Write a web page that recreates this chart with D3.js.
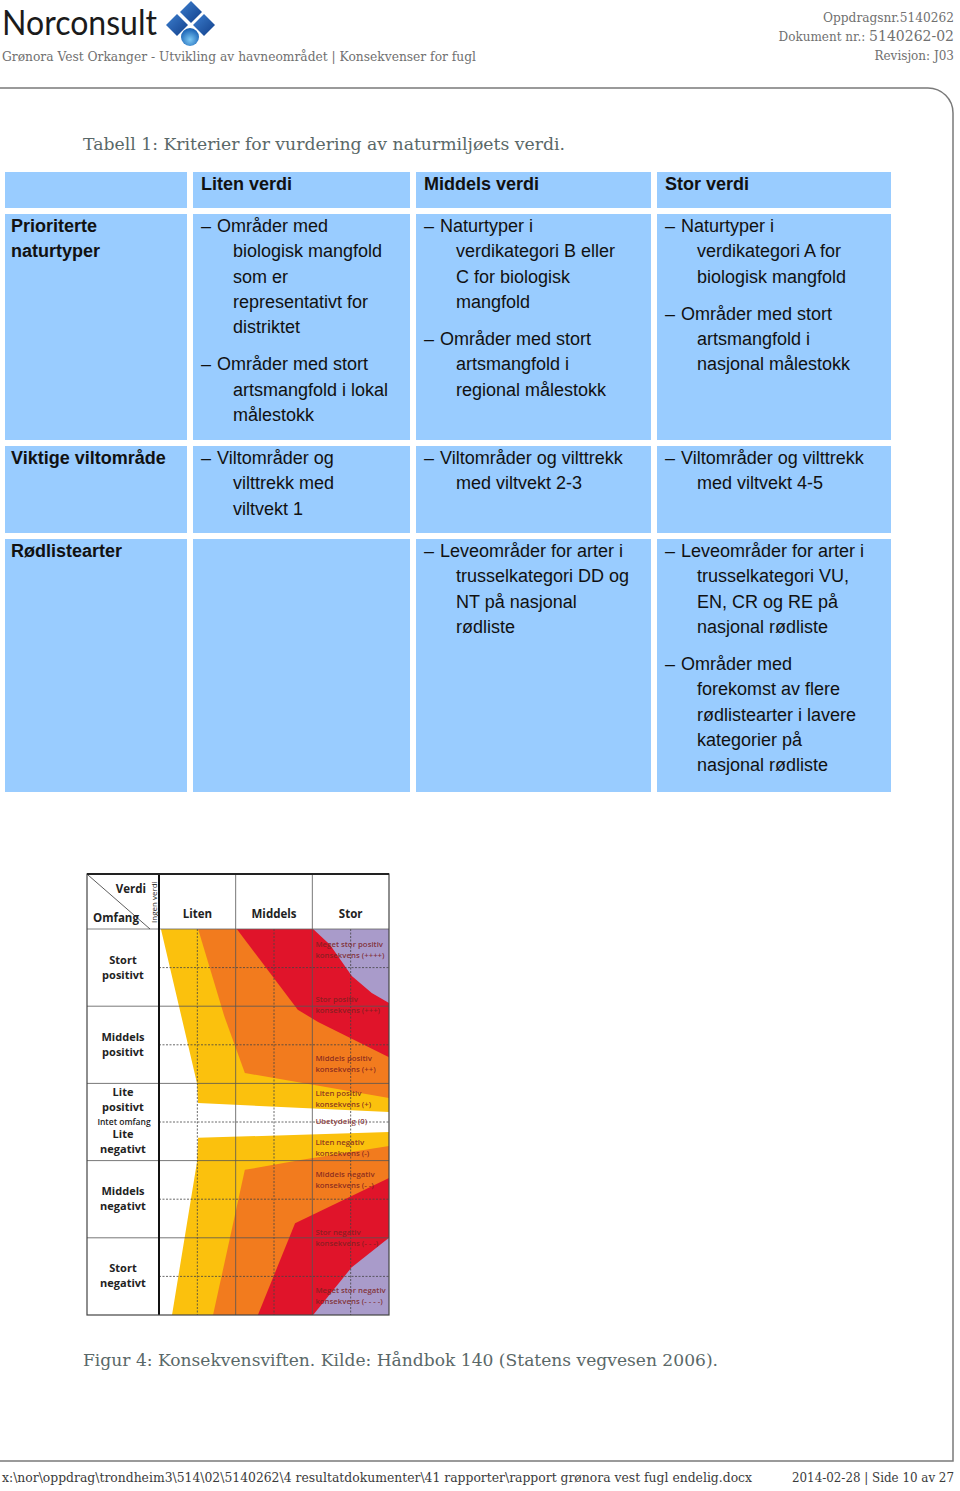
<!DOCTYPE html>
<html>
<head>
<meta charset="utf-8">
<script src="https://cdn.jsdelivr.net/npm/d3@7"></script>
<style>
  body { margin: 0; background: #fff; }
  svg text { font-kerning: normal; }
</style>
</head>
<body>
<div id="page"></div>
<script>
// ---- data -------------------------------------------------------------
const docInfo = ['Oppdragsnr.5140262', 'Dokument nr.: ', '5140262-02', 'Revisjon: J03'];
const subTitle = 'Grønora Vest Orkanger - Utvikling av havneområdet | Konsekvenser for fugl';
const tableCaption = 'Tabell 1: Kriterier for vurdering av naturmiljøets verdi.';
const figCaption = 'Figur 4: Konsekvensviften. Kilde: Håndbok 140 (Statens vegvesen 2006).';
const footLeft = 'x:\\nor\\oppdrag\\trondheim3\\514\\02\\5140262\\4 resultatdokumenter\\41 rapporter\\rapport grønora vest fugl endelig.docx';
const footRight = '2014-02-28 | Side 10 av 27';

// table
const tableHead = ['', 'Liten verdi', 'Middels verdi', 'Stor verdi'];
const rowLabels = [['Prioriterte', 'naturtyper'], ['Viktige viltområde'], ['Rødlistearter']];
const cellsLiten = [
  [['Områder med', 'biologisk mangfold', 'som er', 'representativt for', 'distriktet'],
   ['Områder med stort', 'artsmangfold i lokal', 'målestokk']],
  [['Viltområder og', 'vilttrekk med', 'viltvekt 1']],
  []
];
const cellsMiddels = [
  [['Naturtyper i', 'verdikategori B eller', 'C for biologisk', 'mangfold'],
   ['Områder med stort', 'artsmangfold i', 'regional målestokk']],
  [['Viltområder og vilttrekk', 'med viltvekt 2-3']],
  [['Leveområder for arter i', 'trusselkategori DD og', 'NT på nasjonal', 'rødliste']]
];
const cellsStor = [
  [['Naturtyper i', 'verdikategori A for', 'biologisk mangfold'],
   ['Områder med stort', 'artsmangfold i', 'nasjonal målestokk']],
  [['Viltområder og vilttrekk', 'med viltvekt 4-5']],
  [['Leveområder for arter i', 'trusselkategori VU,', 'EN, CR og RE på', 'nasjonal rødliste'],
   ['Områder med', 'forekomst av flere', 'rødlistearter i lavere', 'kategorier på', 'nasjonal rødliste']]
];

// konsekvensvifte: x = verdi (0 ingen .. 6 stor), y = omfang (+5 stort positivt .. -5 stort negativt)
const verdiCols = ['Liten', 'Middels', 'Stor'];
const omfangRows = [
  { o: 4.2, lines: ['Stort', 'positivt'] },
  { o: 2.2, lines: ['Middels', 'positivt'] },
  { o: 0.78, lines: ['Lite', 'positivt'] },
  { o: -0.3, lines: ['Lite', 'negativt'] },
  { o: -1.79, lines: ['Middels', 'negativt'] },
  { o: -3.79, lines: ['Stort', 'negativt'] }
];
const yellowPos = [[0.05, 5], [0.99, 1.01], [1.02, 0.49], [6, 0.26], [6, 5]];
const orangePos = [[1.02, 5], [1.7, 2.75], [2.24, 1.27], [6, 0.62], [6, 5]];
const redPos = [[2.03, 5], [3.62, 2.91], [4.15, 2.59], [6, 1.68], [6, 5]];
const purplePos = [[4.02, 5], [4.46, 4.59], [5.03, 3.78], [5.55, 3.34], [6, 3.08], [6, 5]];
const yellowNeg = [[1.02, -0.41], [0.99, -1.04], [0.34, -5], [6, -5], [6, -0.26]];
const orangeNeg = [[6, -0.62], [3.73, -0.98], [2.24, -1.24], [1.41, -5], [6, -5]];
const redNeg = [[6, -1.45], [3.55, -2.62], [2.58, -5], [6, -5]];
const purpleNeg = [[6, -3.0], [5.03, -3.76], [4.02, -5], [6, -5]];
const fanLabels = [
  { o: 4.61, lines: ['Meget stor positiv', 'konsekvens (++++)'] },
  { o: 3.19, lines: ['Stor positiv', 'konsekvens (+++)'] },
  { o: 1.66, lines: ['Middels positiv', 'konsekvens (++)'] },
  { o: 0.75, lines: ['Liten positiv', 'konsekvens (+)'] },
  { o: 0.03, lines: ['Ubetydelig (0)'] },
  { o: -0.52, lines: ['Liten negativ', 'konsekvens (-)'] },
  { o: -1.35, lines: ['Middels negativ', 'konsekvens (- -)'] },
  { o: -2.85, lines: ['Stor negativ', 'konsekvens (- - -)'] },
  { o: -4.35, lines: ['Meget stor negativ', 'konsekvens (- - - -)'] }
];

// ---- page -------------------------------------------------------------
const W = 960, H = 1491;
const svg = d3.select('#page').append('svg').attr('width', W).attr('height', H);

const slab = "'DejaVu Serif', serif";
const arial = "'Liberation Sans', Arial, sans-serif";
const frut = "'Open Sans', 'Noto Sans', sans-serif";

// logo + header
svg.append('text').attr('x', 2).attr('y', 35).attr('font-family', "Lato, sans-serif")
  .attr('font-size', 34).attr('fill', '#1b1b1b').attr('textLength', 155)
  .attr('lengthAdjust', 'spacingAndGlyphs').text('Norconsult');

const defs = svg.append('defs');
const g1 = defs.append('linearGradient').attr('id', 'lg').attr('x1', 0).attr('y1', 0).attr('x2', 1).attr('y2', 1);
g1.append('stop').attr('offset', 0).attr('stop-color', '#3c7fcf');
g1.append('stop').attr('offset', 1).attr('stop-color', '#123f8a');
const g2 = defs.append('radialGradient').attr('id', 'rg').attr('cx', 0.5).attr('cy', 0.65).attr('r', 0.6);
g2.append('stop').attr('offset', 0).attr('stop-color', '#7cc8f4');
g2.append('stop').attr('offset', 1).attr('stop-color', '#1b63b5');

const diamonds = [[191, 12], [177, 25], [204, 25]];
svg.selectAll('path.dia').data(diamonds).enter().append('path')
  .attr('d', d => `M${d[0]},${d[1] - 11}L${d[0] + 11},${d[1]}L${d[0]},${d[1] + 11}L${d[0] - 11},${d[1]}Z`)
  .attr('fill', 'url(#lg)');
svg.append('circle').attr('cx', 190).attr('cy', 37).attr('r', 9).attr('fill', 'url(#rg)');

svg.append('text').attr('x', 2).attr('y', 61).attr('font-family', slab).attr('font-size', 13)
  .attr('fill', '#707070').attr('textLength', 474).attr('lengthAdjust', 'spacingAndGlyphs').text(subTitle);

svg.append('text').attr('x', 954).attr('y', 22).attr('text-anchor', 'end').attr('font-family', slab)
  .attr('font-size', 12).attr('fill', '#707070').attr('textLength', 131).attr('lengthAdjust', 'spacingAndGlyphs')
  .text(docInfo[0]);
const dok = svg.append('text').attr('x', 954).attr('y', 41).attr('text-anchor', 'end')
  .attr('font-family', slab).attr('fill', '#707070');
dok.append('tspan').attr('font-size', 12).text(docInfo[1]);
dok.append('tspan').attr('font-size', 14).text(docInfo[2]);
svg.append('text').attr('x', 954).attr('y', 60).attr('text-anchor', 'end').attr('font-family', slab)
  .attr('font-size', 12).attr('fill', '#707070').text(docInfo[3]);

// page frame
svg.append('path').attr('d', 'M0,88H928A25,25 0 0 1 953,113V1461H0')
  .attr('fill', 'none').attr('stroke', '#7a7a7a').attr('stroke-width', 1.5);

// captions
svg.append('text').attr('x', 83).attr('y', 150).attr('font-family', slab).attr('font-size', 16)
  .attr('fill', '#5a6868').attr('textLength', 482).attr('lengthAdjust', 'spacingAndGlyphs').text(tableCaption);
svg.append('text').attr('x', 83).attr('y', 1366).attr('font-family', slab).attr('font-size', 16)
  .attr('fill', '#5a6868').attr('textLength', 635).attr('lengthAdjust', 'spacingAndGlyphs').text(figCaption);

// footer
svg.append('text').attr('x', 2).attr('y', 1482).attr('font-family', slab).attr('font-size', 12)
  .attr('fill', '#3a3a3a').attr('textLength', 750).attr('lengthAdjust', 'spacingAndGlyphs').text(footLeft);
svg.append('text').attr('x', 954).attr('y', 1482).attr('text-anchor', 'end').attr('font-family', slab)
  .attr('font-size', 12).attr('fill', '#3a3a3a').attr('textLength', 162).attr('lengthAdjust', 'spacingAndGlyphs')
  .text(footRight);

// ---- table ------------------------------------------------------------
const colX = [5, 193, 416, 657], colW = [182, 217, 235, 234];
const rowY = [172, 214, 446, 539], rowH = [36, 226, 87, 253];
const tbl = svg.append('g').attr('font-family', arial).attr('font-size', 18).attr('fill', '#111');
const LH = 25.3, PGAP = 11.7;

for (let r = 0; r < 4; r++) {
  for (let c = 0; c < 4; c++) {
    tbl.append('rect').attr('x', colX[c]).attr('y', rowY[r]).attr('width', colW[c]).attr('height', rowH[r])
      .attr('fill', '#99ccff');
  }
}
tableHead.forEach((t, c) => {
  tbl.append('text').attr('x', colX[c] + 8).attr('y', 190).attr('font-weight', 'bold').text(t);
});
rowLabels.forEach((lines, r) => {
  lines.forEach((t, i) => {
    tbl.append('text').attr('x', 11).attr('y', rowY[r + 1] + 18 + i * LH).attr('font-weight', 'bold').text(t);
  });
});
[cellsLiten, cellsMiddels, cellsStor].forEach((col, ci) => {
  const c = ci + 1;
  const dx = colX[c] + 8;
  col.forEach((paras, r) => {
    let ty = rowY[r + 1] + 18;
    paras.forEach((lines, pi) => {
      if (pi > 0) ty += PGAP;
      lines.forEach((t, li) => {
        if (li === 0) {
          tbl.append('text').attr('x', dx).attr('y', ty).text('–');
          tbl.append('text').attr('x', dx + 16).attr('y', ty).text(t);
        } else {
          tbl.append('text').attr('x', dx + 32).attr('y', ty).text(t);
        }
        ty += LH;
      });
    });
  });
});

// ---- konsekvensvifte --------------------------------------------------
const x = d3.scaleLinear().domain([0, 6]).range([159, 389]);
const y = d3.scaleLinear().domain([5, -5]).range([929, 1315]);
const fan = svg.append('g');
const line = d3.line().x(d => x(d[0])).y(d => y(d[1]));
const fanLeft = 87, fanTop = 874;

fan.append('rect').attr('x', fanLeft).attr('y', fanTop).attr('width', x(6) - fanLeft).attr('height', y(-5) - fanTop)
  .attr('fill', '#fff');

const layers = [
  [yellowPos, '#fbc10d'], [orangePos, '#f27b1e'], [redPos, '#e0142a'], [purplePos, '#a99bca'],
  [yellowNeg, '#fbc10d'], [orangeNeg, '#f27b1e'], [redNeg, '#e0142a'], [purpleNeg, '#a99bca']
];
fan.selectAll('path.area').data(layers).enter().append('path')
  .attr('d', d => line(d[0]) + 'Z').attr('fill', d => d[1]);

// grid
const vSolid = [2, 4], vDash = [1, 3, 5];
const hSolid = [3, 1, -1, -3], hDash = [4, 2, 0, -2, -4];
fan.selectAll('line.vs').data(vSolid).enter().append('line')
  .attr('x1', d => x(d)).attr('x2', d => x(d)).attr('y1', fanTop).attr('y2', y(-5))
  .attr('stroke', '#555').attr('stroke-width', 0.8);
fan.selectAll('line.vd').data(vDash).enter().append('line')
  .attr('x1', d => x(d)).attr('x2', d => x(d)).attr('y1', y(5)).attr('y2', y(-5))
  .attr('stroke', '#444').attr('stroke-width', 0.8).attr('stroke-dasharray', '2,1.5');
fan.selectAll('line.hs').data(hSolid).enter().append('line')
  .attr('x1', fanLeft).attr('x2', x(6)).attr('y1', d => y(d)).attr('y2', d => y(d))
  .attr('stroke', '#555').attr('stroke-width', 0.8);
fan.selectAll('line.hd').data(hDash).enter().append('line')
  .attr('x1', x(0)).attr('x2', x(6)).attr('y1', d => y(d)).attr('y2', d => y(d))
  .attr('stroke', '#444').attr('stroke-width', 0.8).attr('stroke-dasharray', '2,1.5');
fan.append('line').attr('x1', fanLeft).attr('x2', x(6)).attr('y1', y(5)).attr('y2', y(5))
  .attr('stroke', '#666').attr('stroke-width', 0.8);
fan.append('line').attr('x1', x(0)).attr('x2', x(0)).attr('y1', fanTop).attr('y2', y(-5))
  .attr('stroke', '#111').attr('stroke-width', 2);
fan.append('rect').attr('x', fanLeft).attr('y', fanTop).attr('width', x(6) - fanLeft).attr('height', y(-5) - fanTop)
  .attr('fill', 'none').attr('stroke', '#444').attr('stroke-width', 1.2);
fan.append('line').attr('x1', fanLeft).attr('x2', x(6)).attr('y1', fanTop).attr('y2', fanTop)
  .attr('stroke', '#222').attr('stroke-width', 2);
fan.append('line').attr('x1', fanLeft + 1).attr('y1', fanTop + 1).attr('x2', 150).attr('y2', y(5))
  .attr('stroke', '#333').attr('stroke-width', 0.8);

// header texts
const hdr = fan.append('g').attr('font-family', frut).attr('font-weight', 700).attr('fill', '#222');
hdr.append('text').attr('x', 146).attr('y', 893).attr('text-anchor', 'end').attr('font-size', 11.5).text('Verdi');
hdr.append('text').attr('x', 93).attr('y', 922).attr('font-size', 11.5).text('Omfang');
hdr.append('text').attr('transform', `translate(157,923) rotate(-90)`).attr('font-size', 8)
  .attr('font-weight', 400).text('Ingen verdi');
hdr.selectAll('text.col').data(verdiCols).enter().append('text')
  .attr('x', (d, i) => x(i * 2 + 1)).attr('y', 918).attr('text-anchor', 'middle').attr('font-size', 11.5)
  .text(d => d);

// omfang labels
const lbl = fan.append('g').attr('font-family', frut).attr('font-weight', 700).attr('fill', '#222')
  .attr('font-size', 11).attr('text-anchor', 'middle');
omfangRows.forEach(r => {
  r.lines.forEach((t, i) => {
    lbl.append('text').attr('x', 123).attr('y', y(r.o) + 4 + i * 15).text(t);
  });
});
lbl.append('text').attr('x', 124).attr('y', y(0) + 3).attr('font-size', 8.5).attr('font-weight', 600)
  .text('Intet omfang');

// konsekvens labels
const kl = fan.append('g').attr('font-family', frut).attr('font-size', 7.8).attr('font-weight', 600)
  .attr('fill', '#7a2020').attr('fill-opacity', 0.85);
fanLabels.forEach(f => {
  f.lines.forEach((t, i) => {
    kl.append('text').attr('x', x(4.08)).attr('y', y(f.o) + 3 + i * 11).text(t);
  });
});
</script>
</body>
</html>
